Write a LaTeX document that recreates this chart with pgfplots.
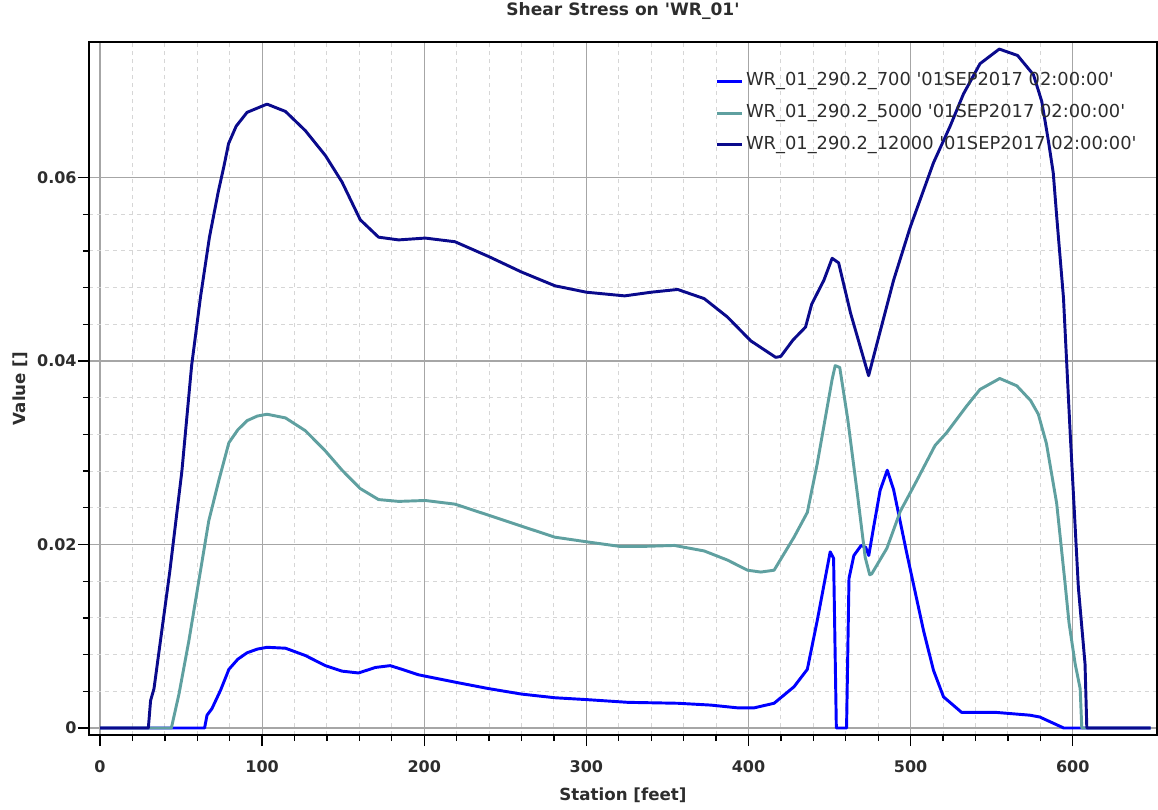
\documentclass[border=0pt]{standalone}
\usepackage{pgfplots}
\pgfplotsset{compat=1.18}
\usepackage{fontspec}
\setmainfont{DejaVu Sans}
\definecolor{cA}{RGB}{0,0,255}
\definecolor{cB}{RGB}{95,160,160}
\definecolor{cC}{RGB}{10,10,140}
\definecolor{txt}{RGB}{45,45,45}

\pgfplotstableread{
x y
0 0
64.5 0
66 0.0014
69 0.0021
74.3 0.0041
79.5 0.0064
85 0.0075
90.7 0.0082
97 0.0086
103 0.0088
114.4 0.0087
126.7 0.0079
139 0.0068
149.3 0.0062
159.5 0.0060
169.8 0.0066
179 0.0068
186.2 0.0064
196.5 0.0058
219 0.0050
239.6 0.0043
260 0.0037
280.6 0.0033
300 0.0031
325.6 0.0028
356.3 0.0027
376.8 0.0025
393.2 0.0022
403.5 0.0022
415.8 0.0027
428.1 0.0045
436.3 0.0064
442.4 0.0117
450.4 0.0192
452.5 0.0185
454.2 0
460.5 0
462 0.0163
465 0.0188
469.5 0.0199
472.3 0.0197
474.2 0.0188
477.2 0.0219
481.2 0.0259
485.6 0.0281
489.5 0.0260
497.7 0.0190
508 0.0106
514.1 0.0063
520.3 0.0034
531.5 0.0017
553 0.0017
573.6 0.0014
579.7 0.0012
594.5 0
648 0
}\tblA

\pgfplotstableread{
x y
0 0
44 0
48.7 0.0037
54.8 0.0095
61 0.0161
67.1 0.0226
73.3 0.0270
79.5 0.0311
85 0.0325
90.7 0.0335
97 0.0340
103 0.0342
114.4 0.0338
126.7 0.0324
139 0.0302
149.3 0.0281
160.5 0.0261
171.8 0.0249
184.2 0.0247
200.6 0.0248
219 0.0244
239.6 0.0232
260 0.0220
280.6 0.0208
300 0.0203
320.5 0.0198
335.9 0.0198
354.3 0.0199
372.7 0.0193
387.1 0.0183
399.4 0.0172
407.6 0.0170
415.8 0.0172
428.1 0.0208
436.3 0.0235
442.4 0.0288
448.6 0.0350
451.6 0.0380
453.5 0.0395
456.3 0.0393
461.2 0.0337
467.4 0.0252
472 0.0186
474.8 0.0167
476 0.0168
485.4 0.0196
493.6 0.0236
503.9 0.0270
515.1 0.0308
522.3 0.0322
534.6 0.0351
542.8 0.0369
555 0.0381
565.5 0.0373
574 0.0357
578.8 0.0342
583.8 0.0310
590.1 0.0245
595.1 0.0161
597.7 0.0115
601.5 0.0070
604.6 0.0043
605.6 0
648 0
}\tblB

\pgfplotstableread{
x y
0 0
29.8 0
31.2 0.0030
33.3 0.0043
43 0.0170
50.5 0.0280
56.5 0.0395
62 0.0470
67.5 0.0535
73 0.0585
76.4 0.0612
79.3 0.0637
84 0.0656
90.7 0.0671
103 0.0680
114.4 0.0672
126.7 0.0651
139 0.0624
149.3 0.0595
160.5 0.0554
171.8 0.0535
184.2 0.0532
200.6 0.0534
219 0.0530
239.6 0.0514
260 0.0497
280.6 0.0482
300 0.0475
323.6 0.0471
340 0.0475
356.3 0.0478
372.7 0.0468
387 0.0448
401.4 0.0422
416.8 0.0404
419.9 0.0405
427.5 0.0423
435.2 0.0437
439 0.0462
446.5 0.0488
451.6 0.0512
455.6 0.0507
463 0.0452
474.1 0.0384
480 0.0424
489.5 0.0488
499.8 0.0546
514.1 0.0616
524.4 0.0656
532.6 0.0691
542.8 0.0724
554.7 0.0740
566 0.0733
575.8 0.0712
580.9 0.0683
585 0.0640
588 0.0605
590.2 0.0556
594.3 0.0469
598.4 0.0323
603.5 0.0153
607.6 0.0070
608.7 0
648 0
}\tblC

\begin{document}
\begin{tikzpicture}
\begin{axis}[
  scale only axis,
  width=801pt, height=519.75pt,
  xmin=-6.8, xmax=652, ymin=-0.00076, ymax=0.07477,
  scaled y ticks=false, scaled x ticks=false,
  xtick={0,100,200,300,400,500,600},
  xticklabels={0,100,200,300,400,500,600},
  ytick={0,0.02,0.04,0.06},
  yticklabels={0,0.02,0.04,0.06},
  minor x tick num=4, minor y tick num=4,
  grid=both,
  major grid style={solid, draw=black!35, line width=0.8pt},
  minor grid style={dash pattern=on 3pt off 3pt, draw=black!16, line width=0.75pt},
  tick pos=left, tick align=outside,
  major tick length=8.25pt, minor tick length=4.5pt,
  every tick/.style={black, line width=1pt},
  axis line style={black, line width=1.1pt},
  ticklabel style={font=\fontsize{12}{14}\selectfont\bfseries, text=txt},
  xticklabel style={yshift=-7.5pt},
  yticklabel style={xshift=2.5pt},
  title={Shear Stress on \textquotesingle WR\_01\textquotesingle},
  title style={font=\fontsize{12.8}{15}\selectfont\bfseries, text=txt, at={(axis description cs:0.5,1.0332)}, anchor=center},
  xlabel={Station [feet]},
  ylabel={Value []},
  xlabel style={font=\fontsize{12.5}{15}\selectfont\bfseries, text=txt, at={(axis description cs:0.5,-0.0866)}, anchor=center},
  ylabel style={font=\fontsize{12.5}{15}\selectfont\bfseries, text=txt, at={(axis description cs:-0.0646,0.5)}, anchor=center},
  legend style={draw=none, fill=none, at={(axis description cs:0.586,0.96)}, anchor=north west,
    font=\fontsize{13.4}{15}\selectfont, text=txt, row sep=6.8pt, inner sep=0pt,
    nodes={inner sep=2pt, text height=10pt, text depth=3pt}},
  legend cell align=left,
  legend image code/.code={\draw[#1] (0pt,0pt) -- (19pt,0pt);},
  every axis plot/.append style={line width=2.2pt, line join=round},
]
\addplot[cA] table[x=x,y=y] {\tblA};
\addlegendentry{WR\_01\_290.2\_700 \textquotesingle 01SEP2017 02:00:00\textquotesingle}
\addplot[cB] table[x=x,y=y] {\tblB};
\addlegendentry{WR\_01\_290.2\_5000 \textquotesingle 01SEP2017 02:00:00\textquotesingle}
\addplot[cC] table[x=x,y=y] {\tblC};
\addlegendentry{WR\_01\_290.2\_12000 \textquotesingle 01SEP2017 02:00:00\textquotesingle}
\coordinate (SW) at (rel axis cs:0,0);
\coordinate (NE) at (rel axis cs:1,1);
\end{axis}
\pgfresetboundingbox
\path ([xshift=-66.75pt,yshift=-55.5pt]SW) rectangle ([xshift=0.75pt,yshift=31.5pt]NE);
\end{tikzpicture}
\end{document}
